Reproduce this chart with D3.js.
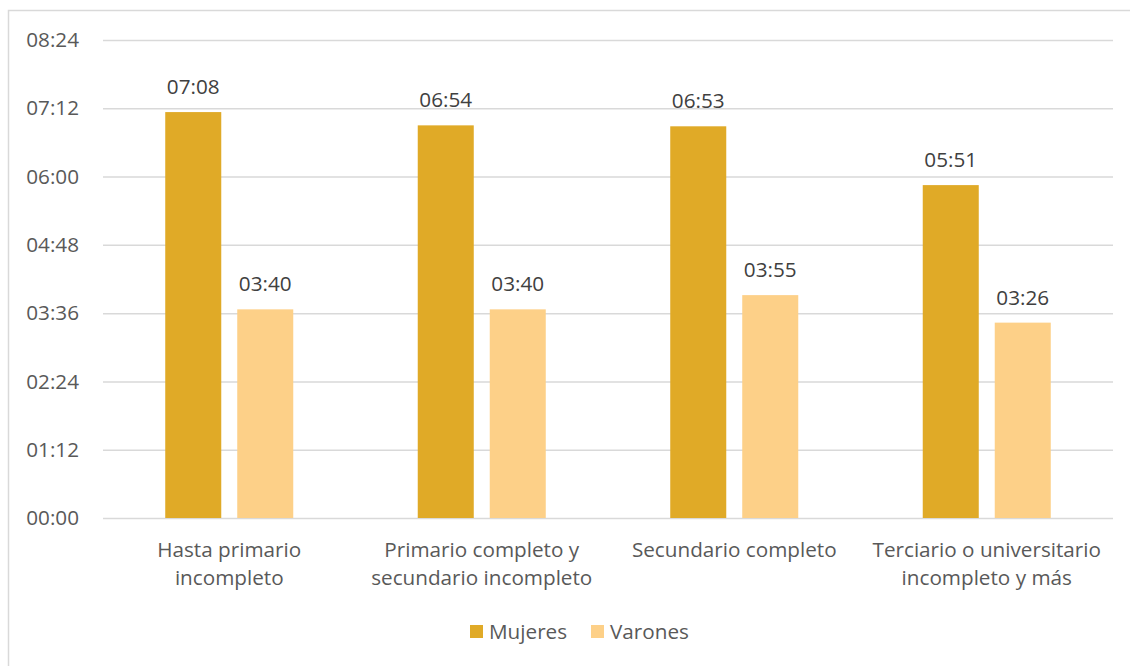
<!DOCTYPE html>
<html><head><meta charset="utf-8">
<script src="https://cdn.jsdelivr.net/npm/d3@7"></script>
<style>body{margin:0;background:#fff}svg{display:block}text{font-family:"Open Sans",sans-serif}</style>
</head><body><svg id="c" width="1130" height="666"></svg>
<script>
const categories = [["Hasta primario","incompleto"],["Primario completo y","secundario incompleto"],["Secundario completo"],["Terciario o universitario","incompleto y más"]];
const series = ["Mujeres","Varones"];
const mujeres = [428, 414, 413, 351]; // minutes
const varones = [220, 220, 235, 206];
const yTicks = [0,72,144,216,288,360,432,504];
const colors = {Mujeres:"#E0AA27", Varones:"#FDD088"};
const FS = "20.7px";

const fmt = m => String(Math.floor(m/60)).padStart(2,"0")+":"+String(m%60).padStart(2,"0");
const svg = d3.select("#c");
svg.append("rect").attr("x",8.5).attr("y",10.5).attr("width",1130).attr("height",670).attr("fill","none").attr("stroke","#d9d9d9").attr("stroke-width",1.5);

const y = d3.scaleLinear().domain([0,504]).range([518,40]);
const x0 = d3.scaleBand().domain(d3.range(categories.length)).range([103,1113]).paddingInner(0.493).paddingOuter(0.2465);
const x1 = d3.scaleBand().domain(series).range([0,x0.bandwidth()]).paddingInner(0.222);

const yAxis = d3.axisLeft(y).tickValues(yTicks).tickFormat(fmt).tickSize(-(1113-103)).tickPadding(24);
const gy = svg.append("g").attr("transform","translate(103,0)").call(yAxis);
gy.select(".domain").remove();
gy.selectAll(".tick line").attr("stroke","#d9d9d9").attr("stroke-width",1.5);
gy.selectAll(".tick text").attr("fill","#595959").style("font-size",FS).attr("font-family","Open Sans");

const data = categories.map((c,i)=>({i, vals:[{s:"Mujeres",v:mujeres[i]},{s:"Varones",v:varones[i]}]}));
const g = svg.selectAll("g.cat").data(data).join("g").attr("class","cat").attr("transform",d=>`translate(${x0(d.i)},0)`);
g.selectAll("rect").data(d=>d.vals).join("rect")
  .attr("x",d=>x1(d.s)).attr("width",x1.bandwidth())
  .attr("y",d=>y(d.v)).attr("height",d=>y(0)-y(d.v)).attr("fill",d=>colors[d.s]);
g.selectAll("text.val").data(d=>d.vals).join("text").attr("class","val")
  .attr("x",d=>x1(d.s)+x1.bandwidth()/2).attr("y",d=>y(d.v)-18)
  .attr("text-anchor","middle").attr("fill","#404040").style("font-size",FS).text(d=>fmt(d.v));

const cl = svg.append("g");
categories.forEach((lines,i)=>{
  const t = cl.append("text").attr("x",x0(i)+x0.bandwidth()/2).attr("y",557).attr("text-anchor","middle").attr("fill","#595959").style("font-size",FS);
  lines.forEach((l,j)=>t.append("tspan").attr("x",x0(i)+x0.bandwidth()/2).attr("dy",j?28:0).text(l));
});

const leg = svg.append("g");
const legX = [470, 591];
series.forEach((s,i)=>{
  leg.append("rect").attr("x",legX[i]).attr("y",625).attr("width",13).attr("height",13).attr("fill",colors[s]);
  leg.append("text").attr("x",legX[i]+19).attr("y",639).attr("fill","#595959").style("font-size",FS).text(s);
});
</script></body></html>
